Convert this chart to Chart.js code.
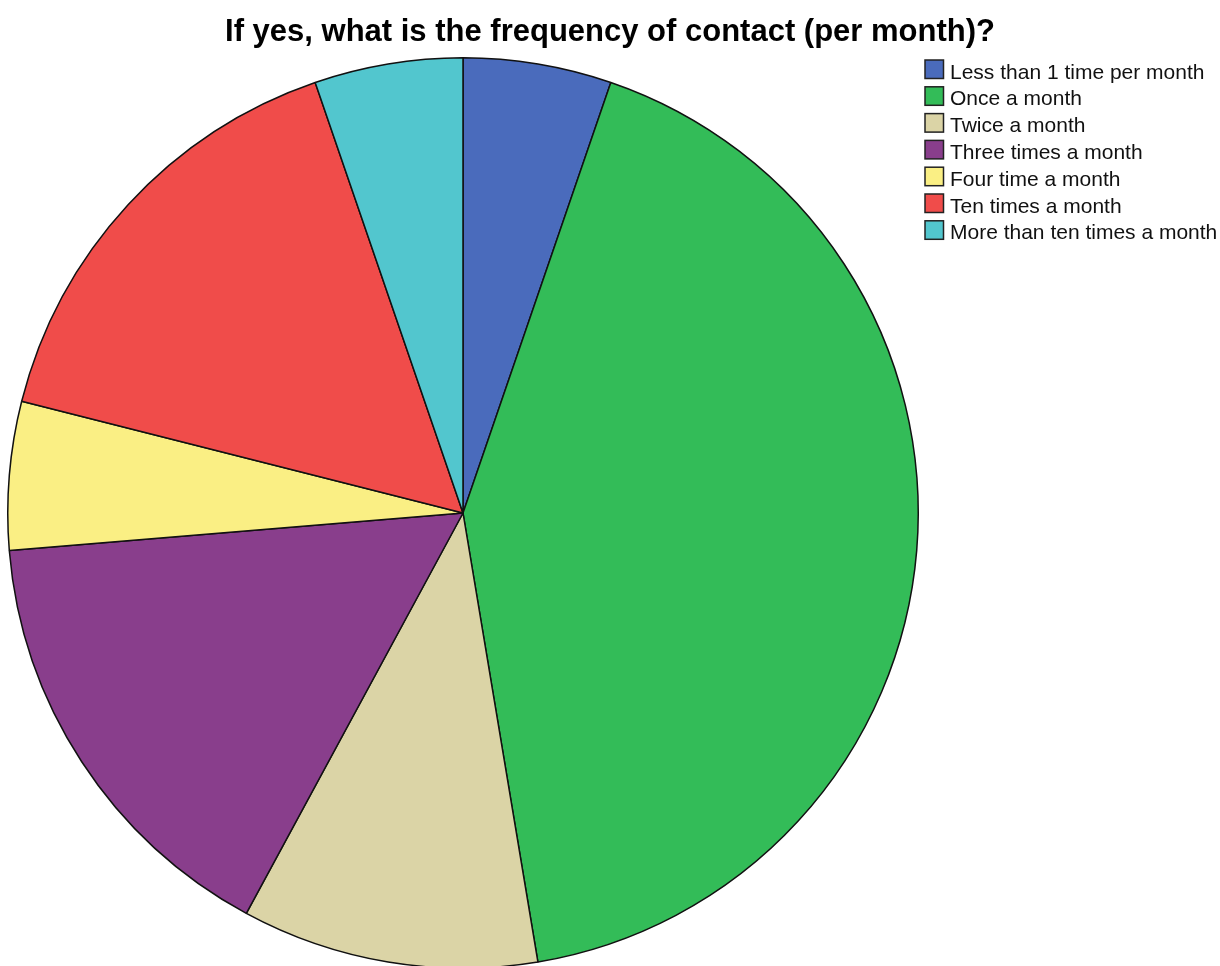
<!DOCTYPE html>
<html>
<head>
<meta charset="utf-8">
<title>Frequency of contact</title>
<script src="https://cdn.jsdelivr.net/npm/chart.js@4/dist/chart.umd.min.js"></script>
<style>
  html, body { margin: 0; padding: 0; background: #fff; }
  #wrap { width: 1220px; height: 966px; overflow: hidden; position: relative; }
  canvas { display: block; }
</style>
</head>
<body>
<div id="wrap">
  <canvas id="myChart" width="1220" height="980"></canvas>
</div>
<script>
  const categories = [
    'Less than 1 time per month',
    'Once a month',
    'Twice a month',
    'Three times a month',
    'Four time a month',
    'Ten times a month',
    'More than ten times a month'
  ];

  const counts = [1, 8, 2, 3, 1, 3, 1];

  const sliceColors = [
    '#4a6bbc',
    '#33bc58',
    '#dbd4a6',
    '#893e8c',
    '#faef84',
    '#f04c4a',
    '#52c6ce'
  ];

  const titleText = 'If yes, what is the frequency of contact (per month)?';

  // title centred on the whole canvas + legend top right, SPSS style
  const spssDecor = {
    id: 'spssDecor',
    afterDraw(chart) {
      const ctx = chart.ctx;
      const labels = chart.data.labels;
      const colors = chart.data.datasets[0].backgroundColor;
      ctx.save();

      ctx.font = 'bold 31px "Liberation Sans", Arial, sans-serif';
      ctx.textAlign = 'center';
      ctx.textBaseline = 'alphabetic';
      ctx.fillStyle = '#000';
      ctx.fillText(titleText, chart.width / 2, 41);

      ctx.font = '21px "Liberation Sans", Arial, sans-serif';
      ctx.textAlign = 'left';
      for (let i = 0; i < labels.length; i++) {
        const y = 60 + i * 26.8;
        ctx.fillStyle = colors[i];
        ctx.fillRect(925, y, 18.5, 18.5);
        ctx.strokeStyle = '#222';
        ctx.lineWidth = 1.5;
        ctx.strokeRect(925, y, 18.5, 18.5);
        ctx.fillStyle = '#111';
        ctx.fillText(labels[i], 950, y + 18.5);
      }
      ctx.restore();
    }
  };

  const data = {
    labels: categories,
    datasets: [{
      data: counts,
      backgroundColor: sliceColors,
      borderColor: '#111',
      borderWidth: 1.5
    }]
  };

  const config = {
    type: 'pie',
    data: data,
    options: {
      responsive: false,
      animation: false,
      events: [],
      layout: {
        padding: { left: 7, right: 301, top: 57, bottom: 11 }
      },
      plugins: {
        legend: { display: false },
        tooltip: { enabled: false },
        title: { display: false }
      }
    },
    plugins: [spssDecor]
  };

  const myChart = new Chart(
    document.getElementById('myChart'),
    config
  );
</script>
</body>
</html>
